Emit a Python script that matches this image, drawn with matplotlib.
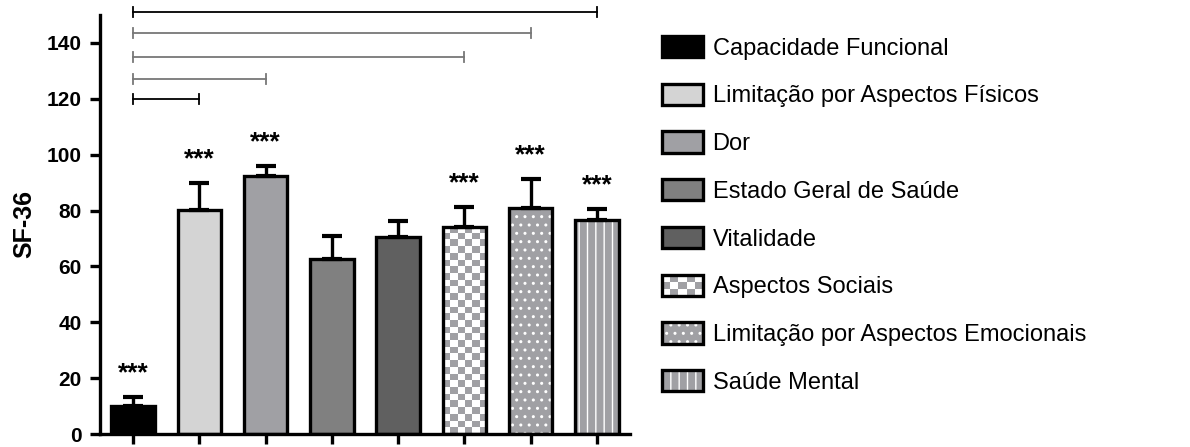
import numpy as np
import matplotlib
matplotlib.use("Agg")
import matplotlib.pyplot as plt
from matplotlib.colors import ListedColormap
from matplotlib.legend_handler import HandlerBase
from matplotlib.patches import Rectangle

plt.rcParams['font.family'] = ['Liberation Sans', 'DejaVu Sans']
plt.rcParams['hatch.linewidth'] = 1.0

# SF-36 domain scores (mean, SD)
domains = ['Capacidade Funcional', 'Limitação por Aspectos Físicos', 'Dor',
           'Estado Geral de Saúde', 'Vitalidade', 'Aspectos Sociais',
           'Limitação por Aspectos Emocionais', 'Saúde Mental']
means = [10.2, 80.2, 92.5, 62.5, 70.5, 74.2, 80.8, 76.7]
sds = [3.2, 9.5, 3.3, 8.5, 5.7, 7.0, 10.5, 3.8]
signif = ['***', '***', '***', '', '', '***', '***', '***']
# comparisons against Capacidade Funcional: (from, to, bracket height)
brackets_from = [0, 0, 0, 0, 0]
brackets_to = [1, 2, 5, 6, 7]
brackets_y = [120, 127, 135, 143.5, 151]

GRAY = '#a0a0a4'
faces = ['black', '#d4d4d4', GRAY, '#808080', '#606060', 'white', GRAY, GRAY]
hatches = [None, None, None, None, None, None, '..', '||']
bracket_colors = ['black', '#777777', '#777777', '#777777', 'black']

W = 0.66
LW = 2.4
CELL_PX = 6.7

fig = plt.figure(figsize=(11.9, 4.47), dpi=100)
ax = fig.add_axes([100 / 1190, 1 - 434 / 447, 530 / 1190, 419 / 447])
ax.set_xlim(-0.5, 7.5)
ax.set_ylim(0, 150)

x = np.arange(len(means))

fills = []
outlines = []
for i, (m, fc, h) in enumerate(zip(means, faces, hatches)):
    if h:
        f = ax.bar(x[i], m, W, color=fc, edgecolor='white', hatch=h, linewidth=0, zorder=1)[0]
    else:
        f = ax.bar(x[i], m, W, color=fc, linewidth=0, zorder=1)[0]
    o = ax.bar(x[i], m, W, fill=False, edgecolor='black', linewidth=LW, zorder=3)[0]
    fills.append(f)
    outlines.append(o)

# checkerboard fill for Aspectos Sociais
ck = 5
px_per_unit = ax.transData.transform((0, 1))[1] - ax.transData.transform((0, 0))[1]
nrows = int(round(means[ck] * px_per_unit / CELL_PX))
ncols = 6
board = (np.add.outer(np.arange(nrows), np.arange(ncols)) % 2).astype(float)
ax.imshow(board, extent=[x[ck] - W / 2, x[ck] + W / 2, 0, means[ck]], origin='lower',
          cmap=ListedColormap(['white', GRAY]), interpolation='nearest', aspect='auto', zorder=1.5)
ax.set_xlim(-0.5, 7.5)
ax.set_ylim(0, 150)

ax.errorbar(x, means, yerr=[np.zeros(len(sds)), sds], fmt='none', ecolor='black',
            elinewidth=LW, capsize=7.5, capthick=3, zorder=2)

for i, s in enumerate(signif):
    if s:
        ax.text(x[i], means[i] + sds[i] + 8.5, s, ha='center', va='center',
                fontsize=19, fontweight='bold')

for a, b, y, c in zip(brackets_from, brackets_to, brackets_y, bracket_colors):
    ax.plot([x[a], x[b]], [y, y], color=c, lw=1.3, clip_on=False, zorder=4)
    for xe in (x[a], x[b]):
        ax.plot([xe, xe], [y - 1.8, y + 1.8], color=c, lw=1.3, clip_on=False, zorder=4)

for side in ('top', 'right'):
    ax.spines[side].set_visible(False)
for side in ('left', 'bottom'):
    ax.spines[side].set_linewidth(2.4)

ax.set_xticks(x)
ax.set_xticklabels([])
ax.set_yticks(np.arange(0, 141, 20))
ax.tick_params(axis='both', length=7, width=2.4, labelsize=15, pad=6)
for lbl in ax.get_yticklabels():
    lbl.set_fontweight('bold')
ax.set_ylabel('SF-36', fontsize=18, fontweight='bold', labelpad=8)


class CheckerHandler(HandlerBase):
    def create_artists(self, legend, orig_handle, xdescent, ydescent, width, height, fontsize, trans):
        x0, y0 = -xdescent, -ydescent
        arts = [Rectangle((x0, y0), width, height, facecolor='white', edgecolor='none', transform=trans)]
        nc, nr = 5, 3
        cw, ch = width / nc, height / nr
        for r in range(nr):
            for c in range(nc):
                if (r + c) % 2:
                    arts.append(Rectangle((x0 + c * cw, y0 + r * ch), cw, ch, facecolor=GRAY,
                                          edgecolor='none', transform=trans))
        arts.append(Rectangle((x0, y0), width, height, facecolor='none', edgecolor='black',
                              linewidth=LW, transform=trans))
        return arts


handles = []
for i in range(len(means)):
    if i == ck:
        handles.append(outlines[i])
    else:
        handles.append((fills[i], outlines[i]))

leg = ax.legend(handles, domains, loc='upper left', bbox_to_anchor=(662 / 1190, 1 - 36 / 447),
                bbox_transform=fig.transFigure, frameon=False, fontsize=17,
                handlelength=1.74, handleheight=1.0, handletextpad=0.4,
                labelspacing=1.02, borderpad=0, borderaxespad=0,
                handler_map={outlines[ck]: CheckerHandler()})

fig.savefig('out.png', dpi=100)
